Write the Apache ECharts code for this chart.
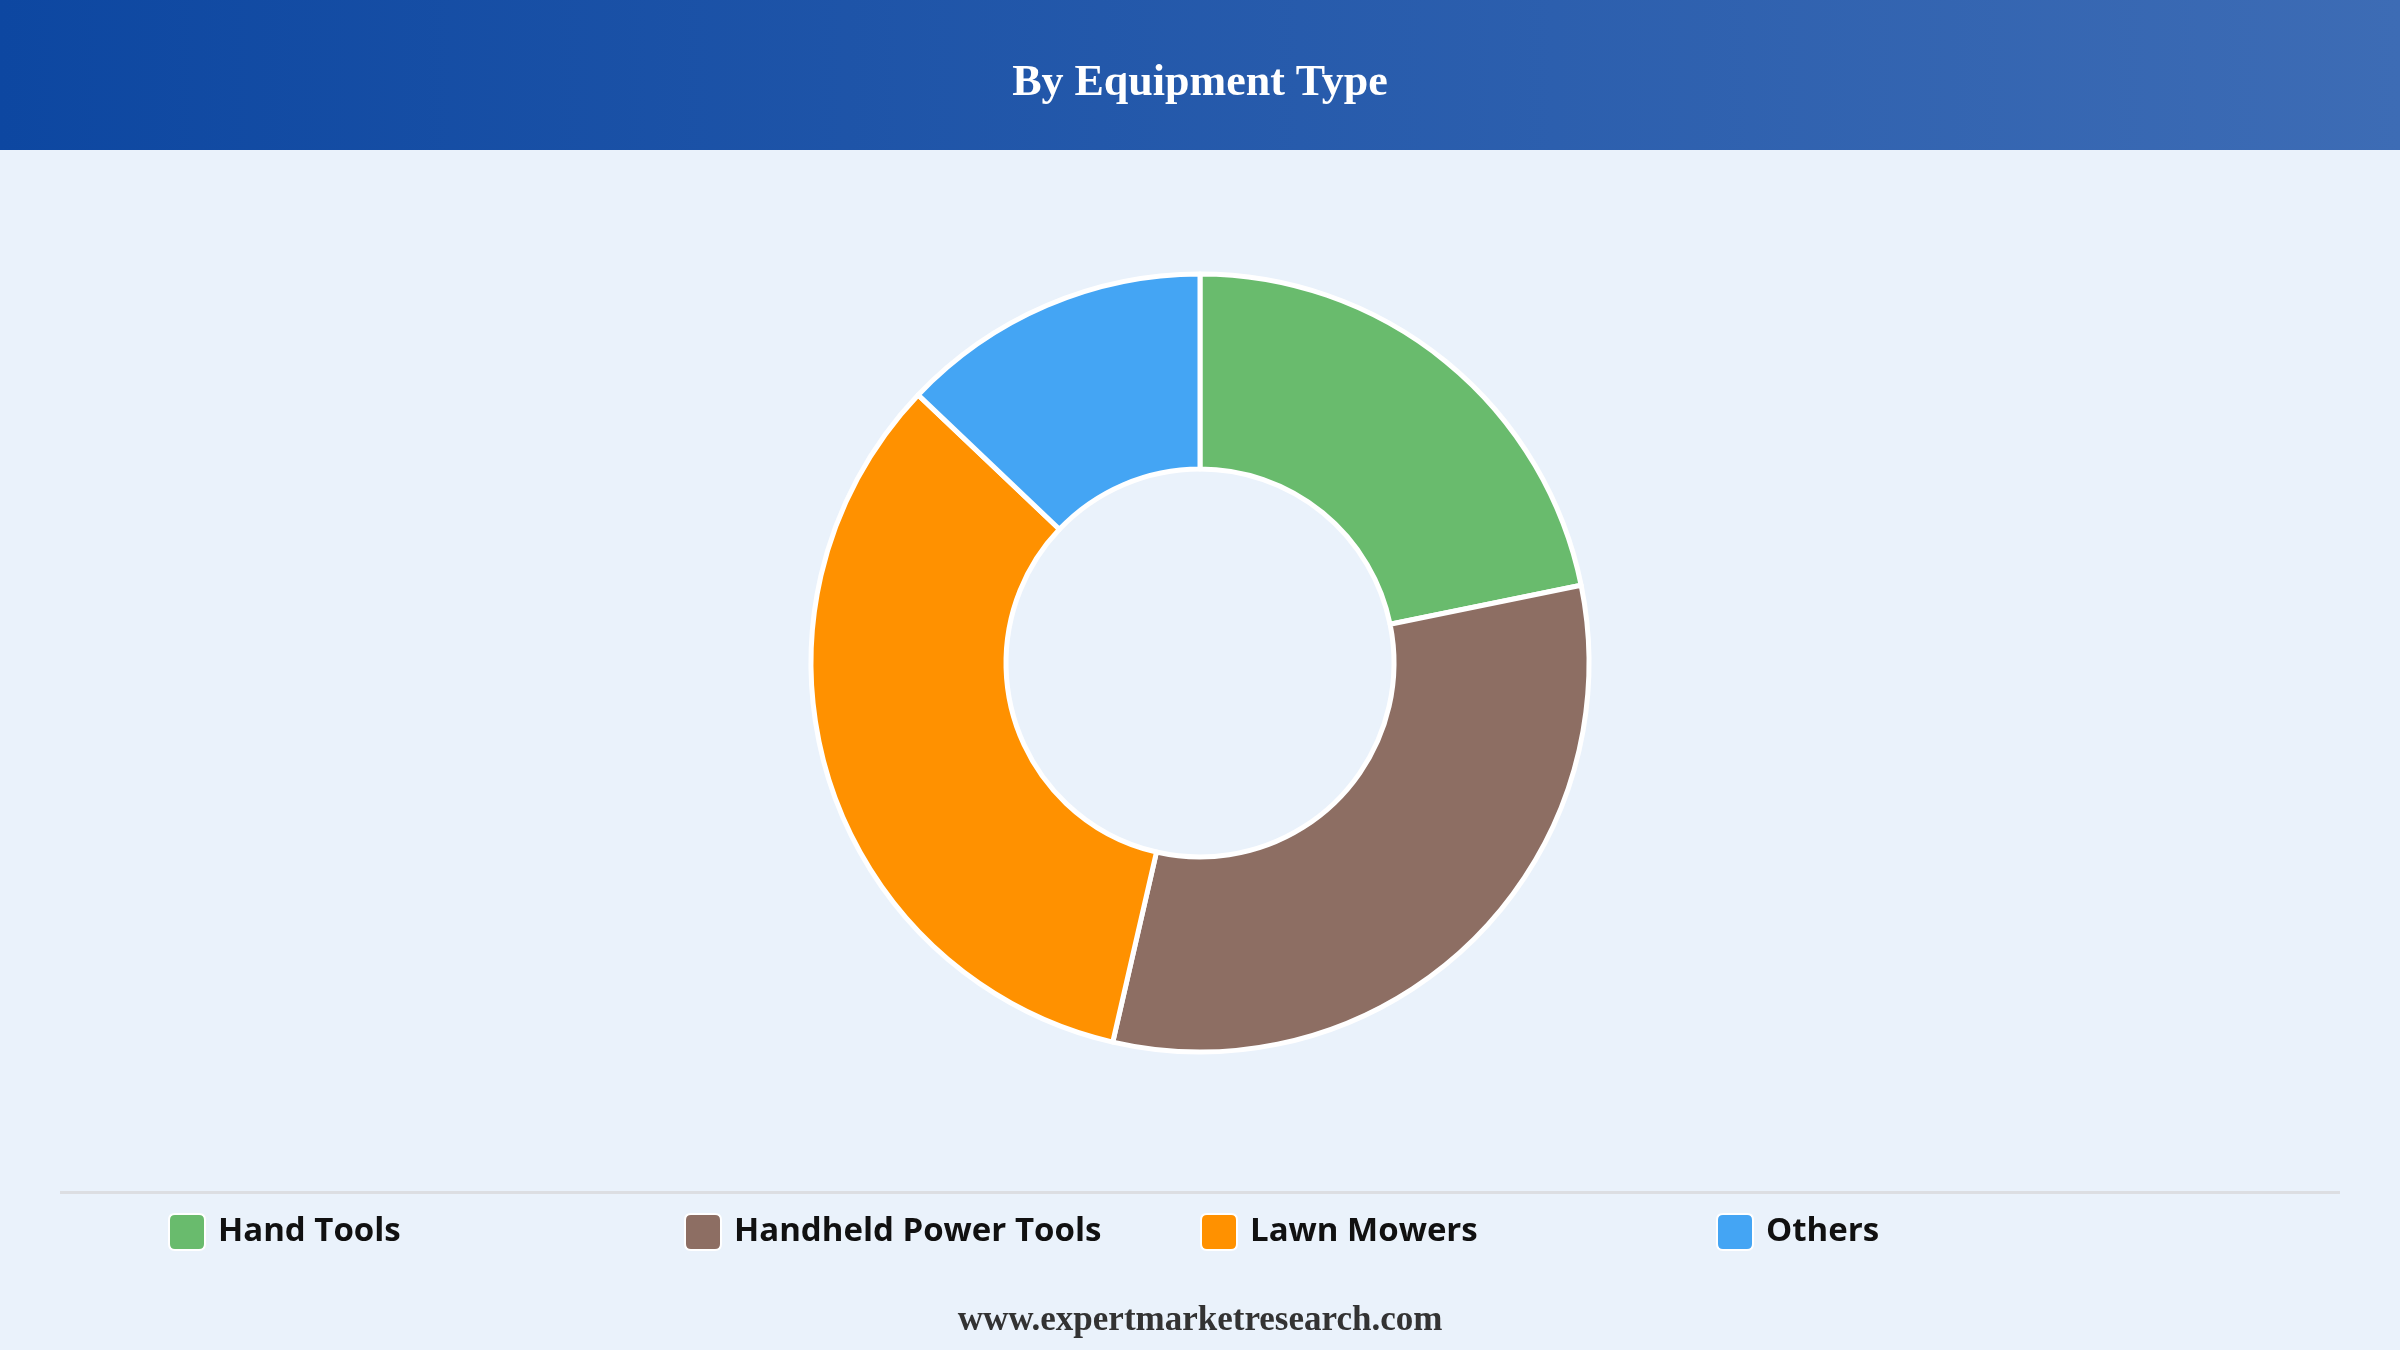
<!DOCTYPE html>
<html>
<head>
<meta charset="utf-8">
<style>
html,body{margin:0;padding:0;background:#EAF2FB;}
#chart{width:2400px;height:1350px;}
</style>
<script src="https://cdn.jsdelivr.net/npm/echarts@6/dist/echarts.min.js"></script>
</head>
<body>
<div id="chart"></div>
<script>
const categories = ['Hand Tools', 'Handheld Power Tools', 'Lawn Mowers', 'Others'];
const values = [21.8, 31.8, 33.5, 12.9];
const colors = ['#69BB6D', '#8D6E63', '#FF9100', '#44A5F4'];
const titleText = 'By Equipment Type';
const footerText = 'www.expertmarketresearch.com';

const chart = echarts.init(document.getElementById('chart'), null, {renderer: 'canvas'});
const legendLefts = [168, 684, 1200, 1716];
const option = {
  backgroundColor: '#EAF2FB',
  animation: false,
  graphic: [
    {
      type: 'rect', left: 0, top: 0, z: 0,
      shape: {width: 2400, height: 150},
      style: {
        fill: new echarts.graphic.LinearGradient(0, 0, 1, 0, [
          {offset: 0, color: '#0D47A1'},
          {offset: 1, color: '#3D6CB5'}
        ])
      }
    },
    {
      type: 'text', left: 'center', top: 62, z: 2,
      style: {text: titleText, fill: '#ffffff', font: 'bold 44px "Liberation Serif", "Times New Roman", serif'}
    },
    {
      type: 'rect', left: 60, top: 1191, z: 1,
      shape: {width: 2280, height: 3},
      style: {fill: '#DCDEE2'}
    },
    {
      type: 'text', left: 'center', top: 1303, z: 2,
      style: {text: footerText, fill: '#333333', font: 'bold 35px "Liberation Serif", "Times New Roman", serif'}
    }
  ],
  legend: categories.map((c, i) => ({
    data: [c],
    left: legendLefts[i],
    top: 1213,
    padding: 0,
    itemWidth: 36,
    itemHeight: 36,
    itemGap: 0,
    icon: 'path://M6,0 L30,0 Q36,0 36,6 L36,30 Q36,36 30,36 L6,36 Q0,36 0,30 L0,6 Q0,0 6,0 Z',
    selectedMode: false,
    textStyle: {
      color: '#111111',
      fontSize: 33,
      fontWeight: 'bold',
      fontFamily: '"Open Sans", "Noto Sans", sans-serif',
      padding: [0, 0, 2, 8]
    }
  })),
  series: [{
    type: 'pie',
    center: [1200, 663],
    radius: [194, 389],
    startAngle: 90,
    clockwise: true,
    label: {show: false},
    labelLine: {show: false},
    itemStyle: {borderColor: '#ffffff', borderWidth: 5},
    emphasis: {disabled: true},
    data: categories.map((c, i) => ({name: c, value: values[i], itemStyle: {color: colors[i]}}))
  }]
};
chart.setOption(option);
</script>
</body>
</html>
